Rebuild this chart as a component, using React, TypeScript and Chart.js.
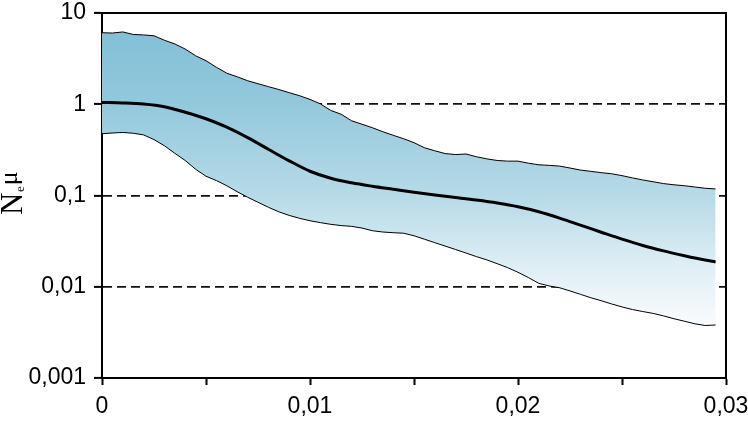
import React, { useEffect, useRef } from 'react';
import { Chart, registerables } from 'chart.js';
Chart.register(...registerables);

// time (x) positions of the HPD bounds
const boundX = [
  0, 0.0005, 0.001, 0.0015, 0.002, 0.0025, 0.003, 0.0035, 0.004, 0.0045,
  0.005, 0.0055, 0.006, 0.0065, 0.007, 0.0075, 0.008, 0.0085, 0.009, 0.0095,
  0.01, 0.0105, 0.011, 0.0115, 0.012, 0.0125, 0.013, 0.0135, 0.014, 0.0145,
  0.015, 0.0155, 0.016, 0.0165, 0.017, 0.0175, 0.018, 0.0185, 0.019, 0.0195,
  0.02, 0.0205, 0.021, 0.0215, 0.022, 0.0225, 0.023, 0.0235, 0.024, 0.0245,
  0.025, 0.0255, 0.026, 0.0265, 0.027, 0.0275, 0.028, 0.0285, 0.029, 0.0295,
];
const upperValues = [
  6.08, 6.03, 6.2, 5.82, 5.75, 5.63, 5.03, 4.58, 4.03, 3.4,
  3.0, 2.54, 2.19, 2.0, 1.81, 1.68, 1.56, 1.45, 1.34, 1.24,
  1.13, 1.01, 0.855, 0.777, 0.659, 0.604, 0.553, 0.5, 0.457, 0.419,
  0.379, 0.334, 0.309, 0.288, 0.281, 0.285, 0.266, 0.252, 0.242, 0.238,
  0.238, 0.226, 0.217, 0.214, 0.21, 0.2, 0.19, 0.184, 0.178, 0.173,
  0.165, 0.156, 0.148, 0.1415, 0.135, 0.131, 0.128, 0.124, 0.12, 0.118,
];
const lowerValues = [
  0.475, 0.484, 0.491, 0.481, 0.461, 0.41, 0.351, 0.29, 0.242, 0.194,
  0.1626, 0.1458, 0.1279, 0.11, 0.0957, 0.0843, 0.0743, 0.0663, 0.0605, 0.0562,
  0.0529, 0.0504, 0.0483, 0.0468, 0.0459, 0.044, 0.0411, 0.0398, 0.0391, 0.0386,
  0.0362, 0.0332, 0.0304, 0.0279, 0.0256, 0.0234, 0.0214, 0.0197, 0.0179, 0.0162,
  0.0144, 0.0126, 0.0109, 0.0102, 0.00975, 0.009, 0.00826, 0.00758, 0.00703, 0.00648,
  0.00601, 0.00563, 0.00535, 0.0051, 0.00479, 0.00446, 0.00419, 0.00393, 0.00376, 0.00381,
];
// median curve
const medianX = [
  0, 0.001, 0.002, 0.003, 0.004, 0.005, 0.006, 0.007, 0.008, 0.009,
  0.01, 0.011, 0.012, 0.013, 0.014, 0.015, 0.016, 0.017, 0.018, 0.019,
  0.02, 0.021, 0.022, 0.023, 0.024, 0.025, 0.026, 0.027, 0.028, 0.029, 0.0295,
];
const medianValues = [
  1.046, 1.033, 1.005, 0.939, 0.817, 0.694, 0.56, 0.43, 0.321, 0.24,
  0.1844, 0.1545, 0.1379, 0.1264, 0.1171, 0.1085, 0.1011, 0.095, 0.0891, 0.0827,
  0.0753, 0.0664, 0.0566, 0.0474, 0.0396, 0.0332, 0.0283, 0.0247, 0.0219, 0.0196, 0.0187,
];

const xTickValues = [0, 0.005, 0.01, 0.015, 0.02, 0.025, 0.03];
const xTickLabels = ['0', '', '0,01', '', '0,02', '', '0,03'];
const yTickValues = [0.001, 0.01, 0.1, 1, 10];
const yTickLabels = ['0,001', '0,01', '0,1', '1', '10'];
const yTitleMain = 'N';
const yTitleSub = 'e';
const yTitleTail = 'μ';

const tickFont = { family: '"Liberation Sans", Arial, sans-serif', size: 23 };

const zeroPad = (s: any) => {
  s.paddingLeft = 0;
  s.paddingRight = 0;
  s.paddingTop = 0;
  s.paddingBottom = 0;
};

const framePlugin = {
  id: 'frameAndTitle',
  afterDraw(chart: any) {
    const { ctx, chartArea } = chart;
    const { left, right, top, bottom } = chartArea;
    ctx.save();
    ctx.strokeStyle = '#000';
    ctx.lineWidth = 2;
    ctx.beginPath();
    ctx.moveTo(left, top);
    ctx.lineTo(right, top);
    ctx.lineTo(right, bottom);
    ctx.stroke();
    ctx.restore();

    // rotated y-axis title  N_e μ
    ctx.save();
    ctx.fillStyle = '#000';
    ctx.translate(22, 215);
    ctx.rotate(-Math.PI / 2);
    ctx.textBaseline = 'alphabetic';
    ctx.textAlign = 'left';
    ctx.font = '31px "Liberation Serif", "Times New Roman", serif';
    ctx.fillText(yTitleMain, 0, 0);
    let w = ctx.measureText(yTitleMain).width;
    ctx.font = '13px "Liberation Serif", "Times New Roman", serif';
    ctx.fillText(yTitleSub, w + 0.5, 2);
    w += ctx.measureText(yTitleSub).width + 1.5;
    ctx.font = '26px "Liberation Serif", "Times New Roman", serif';
    ctx.fillText(yTitleTail, w, -5);
    ctx.restore();
  },
};

export default function App() {
  const ref = useRef<HTMLCanvasElement>(null);
  useEffect(() => {
    document.body.style.margin = '0';
    const canvas = ref.current!;
    const bandFill = (context: any) => {
      const chart = context.chart;
      const area = chart.chartArea;
      if (!area) return 'rgba(150,200,220,1)';
      const g = chart.ctx.createLinearGradient(0, area.top, 0, area.bottom);
      g.addColorStop(0, '#7dbed7');
      g.addColorStop(0.24, '#92c8dc');
      g.addColorStop(0.51, '#b8dbe8');
      g.addColorStop(0.7, '#e0eff5');
      g.addColorStop(0.85, '#f8fbfd');
      g.addColorStop(1, '#ffffff');
      return g;
    };
    const chart = new Chart(canvas, {
      type: 'line',
      data: {
        datasets: [
          {
            label: 'upper',
            data: boundX.map((x, i) => ({ x, y: upperValues[i] })),
            borderColor: '#000',
            borderWidth: 1,
            pointRadius: 0,
            tension: 0,
            fill: '+1',
            backgroundColor: bandFill,
            order: 2,
          },
          {
            label: 'lower',
            data: boundX.map((x, i) => ({ x, y: lowerValues[i] })),
            borderColor: '#000',
            borderWidth: 1,
            pointRadius: 0,
            tension: 0,
            fill: false,
            order: 1,
          },
          {
            label: 'median',
            data: medianX.map((x, i) => ({ x, y: medianValues[i] })),
            borderColor: '#000',
            borderWidth: 3,
            pointRadius: 0,
            cubicInterpolationMode: 'monotone',
            fill: false,
            order: 0,
          },
        ],
      },
      options: {
        responsive: false,
        devicePixelRatio: 1,
        animation: false,
        layout: { autoPadding: false, padding: { left: 0, right: 22, top: 13, bottom: 0 } },
        plugins: { legend: { display: false }, tooltip: { enabled: false } },
        scales: {
          x: {
            type: 'linear',
            min: 0,
            max: 0.03,
            afterFit: (s: any) => { s.height = 68; zeroPad(s); },
            afterBuildTicks: (s: any) => { s.ticks = xTickValues.map((v) => ({ value: v })); },
            ticks: {
              autoSkip: false,
              maxRotation: 0,
              padding: 8,
              color: '#000',
              font: tickFont,
              callback: (_v: any, i: number) => xTickLabels[i],
            },
            grid: { drawOnChartArea: false, drawTicks: true, tickLength: 7, tickColor: '#000', tickWidth: 2 },
            border: { color: '#000', width: 2 },
          },
          y: {
            type: 'logarithmic',
            min: 0.001,
            max: 10,
            z: 1,
            afterFit: (s: any) => { s.width = 102; zeroPad(s); },
            afterBuildTicks: (s: any) => { s.ticks = yTickValues.map((v) => ({ value: v })); },
            ticks: {
              autoSkip: false,
              padding: 8,
              color: '#000',
              font: tickFont,
              callback: (_v: any, i: number) => yTickLabels[i],
            },
            grid: {
              drawOnChartArea: true,
              drawTicks: true,
              tickLength: 8,
              color: '#111',
              lineWidth: 1.8,
              tickColor: '#000',
              tickWidth: 2,
              tickBorderDash: [],
            },
            border: { color: '#000', width: 2, dash: [9, 5] },
          },
        },
      },
      plugins: [framePlugin],
    } as any);
    return () => chart.destroy();
  }, []);
  return <canvas ref={ref} width={748} height={446} style={{ display: 'block', width: 748, height: 446 }} />;
}
